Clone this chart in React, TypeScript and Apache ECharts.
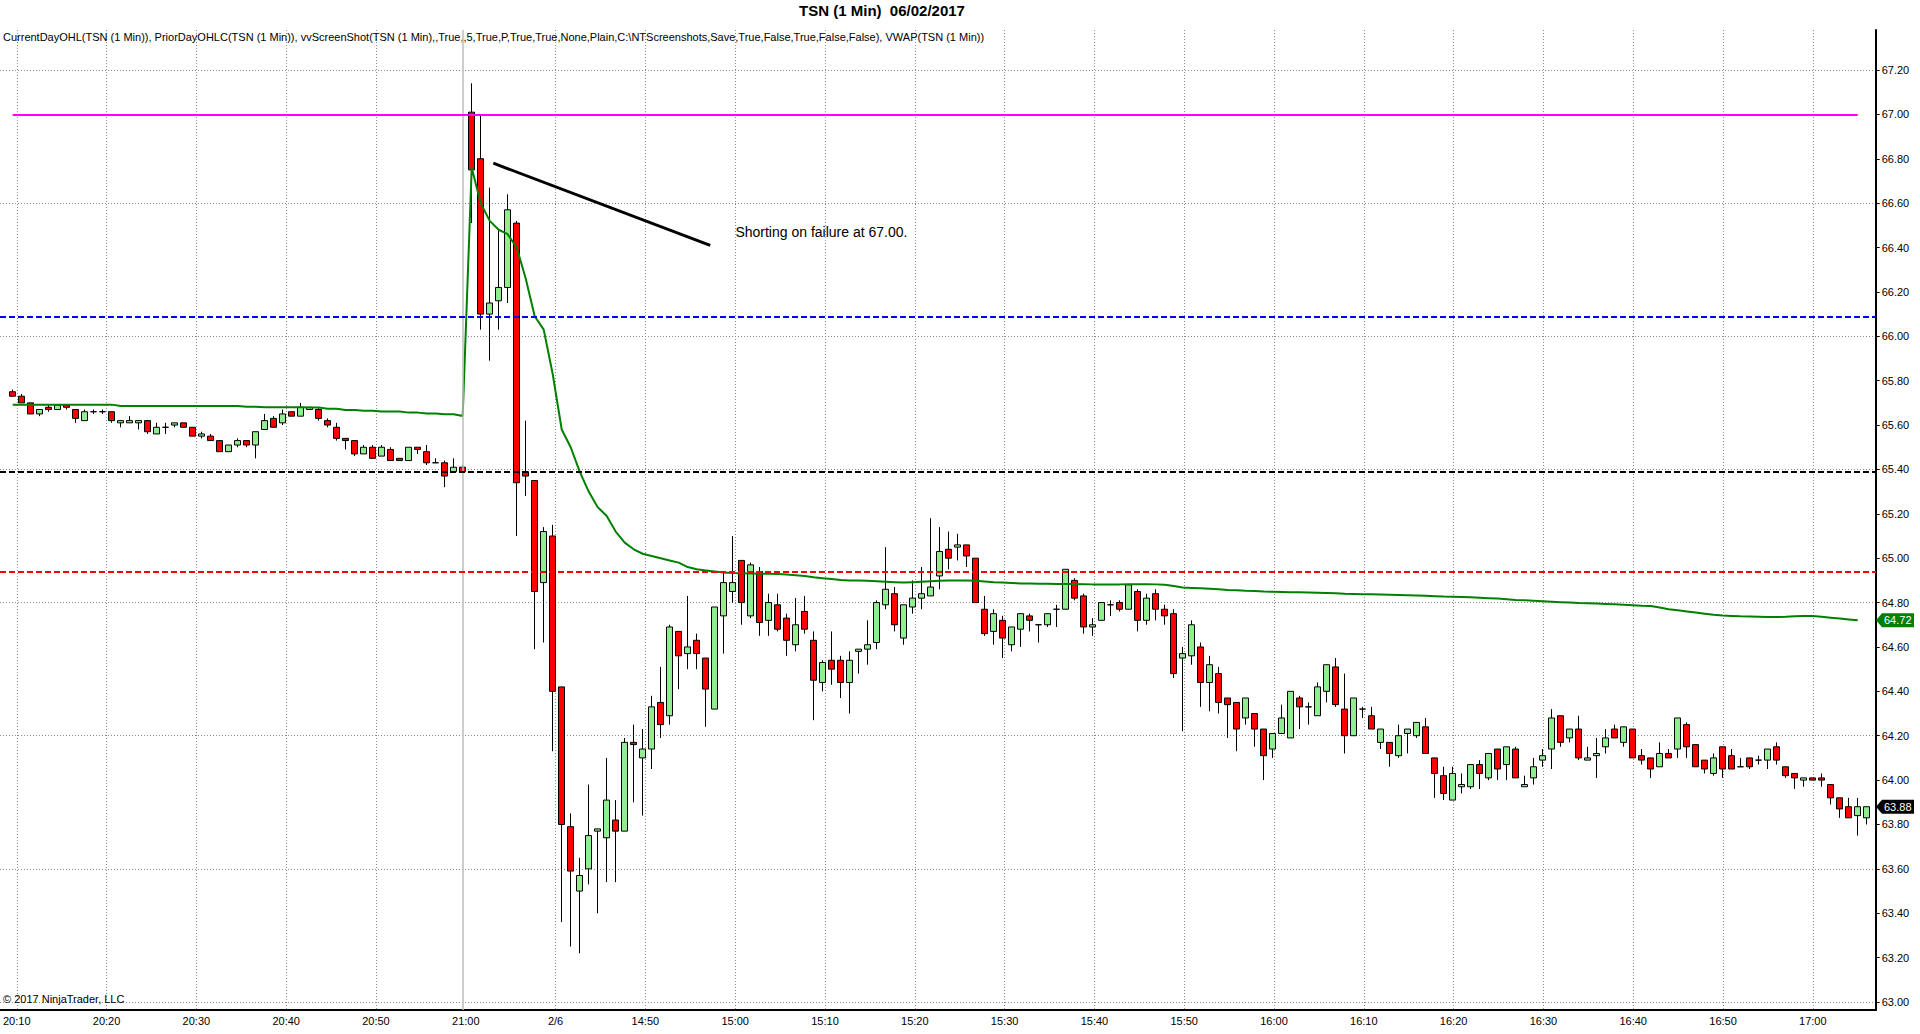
import React, { useEffect, useRef } from "react";
import * as echarts from "echarts";

// ---- DATA ----
const tickLabels = [
  "20:10", "20:20", "20:30", "20:40", "20:50", "21:00", "2/6", "14:50", "15:00", "15:10", "15:20",
  "15:30", "15:40", "15:50", "16:00", "16:10", "16:20", "16:30", "16:40", "16:50", "17:00",
];

// [open, close, low, high]
const priorDayBars = [
  [65.75, 65.73, 65.73, 65.76], [65.73, 65.70, 65.70, 65.74], [65.70, 65.65, 65.65, 65.70], [65.65, 65.67, 65.64, 65.67],
  [65.68, 65.67, 65.66, 65.69], [65.67, 65.69, 65.67, 65.69], [65.69, 65.68, 65.67, 65.69], [65.67, 65.63, 65.61, 65.67],
  [65.62, 65.66, 65.62, 65.67], [65.66, 65.66, 65.65, 65.67], [65.66, 65.66, 65.65, 65.67], [65.66, 65.62, 65.61, 65.66],
  [65.61, 65.62, 65.59, 65.62], [65.61, 65.62, 65.61, 65.64], [65.61, 65.62, 65.58, 65.62], [65.62, 65.57, 65.56, 65.62],
  [65.56, 65.59, 65.56, 65.61], [65.59, 65.59, 65.56, 65.61], [65.60, 65.61, 65.59, 65.61], [65.61, 65.59, 65.59, 65.61],
  [65.59, 65.55, 65.55, 65.59], [65.55, 65.56, 65.54, 65.57], [65.55, 65.53, 65.53, 65.56], [65.53, 65.48, 65.48, 65.53],
  [65.48, 65.51, 65.48, 65.51], [65.51, 65.53, 65.50, 65.54], [65.53, 65.51, 65.50, 65.53], [65.51, 65.57, 65.45, 65.57],
  [65.58, 65.62, 65.58, 65.65], [65.63, 65.59, 65.59, 65.64], [65.61, 65.65, 65.60, 65.67], [65.66, 65.64, 65.64, 65.66],
  [65.64, 65.68, 65.64, 65.70], [65.67, 65.68, 65.67, 65.68], [65.67, 65.63, 65.62, 65.68], [65.62, 65.60, 65.59, 65.63],
  [65.59, 65.54, 65.53, 65.61], [65.54, 65.53, 65.49, 65.54], [65.53, 65.47, 65.46, 65.53], [65.47, 65.50, 65.47, 65.51],
  [65.50, 65.45, 65.45, 65.51], [65.46, 65.50, 65.46, 65.51], [65.49, 65.44, 65.44, 65.50], [65.45, 65.44, 65.44, 65.45],
  [65.44, 65.50, 65.44, 65.50], [65.50, 65.49, 65.47, 65.50], [65.48, 65.43, 65.42, 65.51], [65.43, 65.43, 65.43, 65.45],
  [65.43, 65.37, 65.32, 65.44], [65.39, 65.41, 65.39, 65.45], [65.41, 65.39, 65.39, 65.42],
];

const currentDayBars = [
  [67.01, 66.75, 66.51, 67.14], [66.80, 66.10, 66.03, 67.00], [66.10, 66.15, 65.89, 66.67], [66.16, 66.22, 66.03, 66.48],
  [66.22, 66.57, 66.15, 66.64], [66.51, 65.34, 65.10, 66.52], [65.39, 65.37, 65.28, 65.62], [65.35, 64.85, 64.59, 65.35],
  [64.89, 65.12, 64.62, 65.14], [65.10, 64.40, 64.13, 65.15], [64.42, 63.80, 63.36, 64.42], [63.79, 63.59, 63.25, 63.85],
  [63.50, 63.57, 63.22, 63.65], [63.60, 63.75, 63.53, 63.98], [63.77, 63.78, 63.40, 63.78], [63.74, 63.91, 63.54, 64.10],
  [63.82, 63.77, 63.54, 63.91], [63.77, 64.17, 63.77, 64.19], [64.17, 64.16, 63.90, 64.25], [64.10, 64.14, 63.84, 64.23],
  [64.14, 64.33, 64.05, 64.38], [64.35, 64.25, 64.19, 64.51], [64.29, 64.69, 64.25, 64.70], [64.67, 64.56, 64.41, 64.67],
  [64.57, 64.60, 64.50, 64.83], [64.63, 64.57, 64.50, 64.66], [64.55, 64.41, 64.24, 64.55], [64.32, 64.78, 64.32, 64.78],
  [64.74, 64.89, 64.57, 64.94], [64.85, 64.89, 64.80, 65.10], [64.99, 64.80, 64.70, 64.99], [64.74, 64.97, 64.73, 64.98],
  [64.94, 64.71, 64.65, 64.96], [64.72, 64.80, 64.65, 64.84], [64.79, 64.68, 64.67, 64.84], [64.73, 64.63, 64.56, 64.75],
  [64.61, 64.70, 64.58, 64.82], [64.76, 64.68, 64.66, 64.83], [64.63, 64.45, 64.27, 64.67], [64.44, 64.53, 64.40, 64.54],
  [64.54, 64.50, 64.43, 64.67], [64.54, 64.44, 64.37, 64.56], [64.44, 64.54, 64.30, 64.58], [64.58, 64.59, 64.48, 64.59],
  [64.59, 64.61, 64.52, 64.72], [64.62, 64.80, 64.59, 64.81], [64.79, 64.86, 64.77, 65.05], [64.84, 64.70, 64.67, 64.87],
  [64.64, 64.79, 64.61, 64.79], [64.78, 64.82, 64.75, 64.90], [64.82, 64.84, 64.77, 64.96], [64.83, 64.87, 64.83, 65.18],
  [64.92, 65.03, 64.86, 65.14], [65.04, 65.00, 64.95, 65.12], [65.05, 65.06, 64.99, 65.11], [65.06, 65.01, 64.96, 65.06],
  [65.00, 64.80, 64.80, 65.00], [64.77, 64.66, 64.65, 64.83], [64.67, 64.75, 64.61, 64.77], [64.72, 64.64, 64.55, 64.74],
  [64.61, 64.69, 64.58, 64.69], [64.68, 64.75, 64.60, 64.75], [64.74, 64.72, 64.67, 64.75], [64.70, 64.70, 64.62, 64.70],
  [64.70, 64.75, 64.69, 64.75], [64.77, 64.77, 64.69, 64.79], [64.77, 64.95, 64.77, 64.95], [64.90, 64.82, 64.81, 64.91],
  [64.83, 64.69, 64.66, 64.84], [64.69, 64.70, 64.65, 64.73], [64.72, 64.80, 64.72, 64.80], [64.79, 64.79, 64.74, 64.81],
  [64.80, 64.77, 64.76, 64.81], [64.77, 64.88, 64.77, 64.88], [64.85, 64.72, 64.67, 64.86], [64.72, 64.82, 64.70, 64.84],
  [64.84, 64.77, 64.72, 64.86], [64.77, 64.74, 64.70, 64.79], [64.75, 64.48, 64.46, 64.77], [64.55, 64.57, 64.22, 64.60],
  [64.56, 64.70, 64.52, 64.72], [64.60, 64.44, 64.33, 64.62], [64.44, 64.52, 64.31, 64.56], [64.48, 64.35, 64.30, 64.51],
  [64.37, 64.34, 64.19, 64.37], [64.35, 64.23, 64.13, 64.35], [64.28, 64.37, 64.25, 64.37], [64.30, 64.23, 64.15, 64.30],
  [64.23, 64.11, 64.00, 64.23], [64.14, 64.21, 64.10, 64.21], [64.21, 64.28, 64.21, 64.34], [64.19, 64.40, 64.19, 64.40],
  [64.37, 64.33, 64.23, 64.38], [64.33, 64.33, 64.25, 64.35], [64.29, 64.42, 64.29, 64.44], [64.40, 64.52, 64.35, 64.52],
  [64.51, 64.34, 64.33, 64.55], [64.32, 64.20, 64.12, 64.48], [64.20, 64.37, 64.20, 64.37], [64.32, 64.32, 64.28, 64.33],
  [64.29, 64.23, 64.23, 64.33], [64.17, 64.23, 64.14, 64.23], [64.17, 64.12, 64.06, 64.17], [64.11, 64.20, 64.10, 64.25],
  [64.21, 64.23, 64.12, 64.23], [64.20, 64.26, 64.19, 64.26], [64.24, 64.12, 64.12, 64.28], [64.10, 64.03, 63.92, 64.10],
  [64.02, 63.94, 63.91, 64.06], [63.91, 64.03, 63.91, 64.06], [63.97, 63.98, 63.94, 64.03], [63.97, 64.07, 63.96, 64.07],
  [64.07, 64.03, 63.96, 64.09], [64.01, 64.12, 64.00, 64.12], [64.14, 64.05, 64.00, 64.14], [64.07, 64.15, 64.00, 64.15],
  [64.14, 64.01, 64.01, 64.15], [63.97, 63.98, 63.97, 64.02], [64.01, 64.06, 63.98, 64.10], [64.09, 64.11, 64.06, 64.14],
  [64.14, 64.28, 64.05, 64.32], [64.29, 64.17, 64.15, 64.29], [64.19, 64.23, 64.17, 64.23], [64.23, 64.10, 64.09, 64.29],
  [64.09, 64.10, 64.09, 64.15], [64.11, 64.12, 64.01, 64.19], [64.15, 64.19, 64.12, 64.23], [64.23, 64.19, 64.19, 64.25],
  [64.17, 64.24, 64.15, 64.24], [64.23, 64.10, 64.10, 64.23], [64.11, 64.09, 64.07, 64.14], [64.10, 64.05, 64.01, 64.10],
  [64.06, 64.12, 64.06, 64.17], [64.12, 64.10, 64.10, 64.14], [64.14, 64.28, 64.10, 64.28], [64.25, 64.15, 64.10, 64.26],
  [64.16, 64.06, 64.06, 64.16], [64.09, 64.05, 64.03, 64.09], [64.03, 64.10, 64.02, 64.12], [64.15, 64.05, 64.01, 64.15],
  [64.11, 64.05, 64.05, 64.14], [64.06, 64.06, 64.06, 64.10], [64.10, 64.06, 64.05, 64.10], [64.09, 64.09, 64.07, 64.11],
  [64.09, 64.14, 64.05, 64.14], [64.15, 64.09, 64.07, 64.17], [64.06, 64.02, 64.01, 64.06], [64.03, 64.01, 63.96, 64.03],
  [64.00, 64.01, 63.97, 64.01], [64.01, 64.00, 64.00, 64.01], [64.01, 64.00, 63.97, 64.03], [63.98, 63.92, 63.89, 63.98],
  [63.92, 63.87, 63.83, 63.92], [63.88, 63.83, 63.83, 63.92], [63.84, 63.88, 63.75, 63.92], [63.83, 63.88, 63.80, 63.88],
];

const priorDayVwap = [
  65.692, 65.692, 65.692, 65.692, 65.692, 65.692, 65.692, 65.692, 65.692, 65.692, 65.692, 65.692,
  65.686, 65.686, 65.686, 65.686, 65.686, 65.686, 65.686, 65.686, 65.686, 65.686, 65.686, 65.686, 65.686, 65.686,
  65.683, 65.683, 65.680, 65.680, 65.680, 65.680, 65.680, 65.679, 65.679, 65.673, 65.673, 65.668, 65.668,
  65.664, 65.664, 65.661, 65.661, 65.661, 65.656, 65.656, 65.652, 65.652, 65.649, 65.649, 65.641,
];

const currentDayVwap = [
  66.76, 66.60, 66.52, 66.48, 66.46, 66.40, 66.26, 66.09, 66.03, 65.83, 65.58, 65.50, 65.39, 65.30, 65.23,
  65.19, 65.12, 65.07, 65.04, 65.02, 65.01, 65.00, 64.99, 64.98, 64.96, 64.95, 64.945, 64.94, 64.935, 64.933,
  64.932, 64.931, 64.930, 64.930, 64.929, 64.926, 64.923, 64.920, 64.914, 64.910, 64.906, 64.902, 64.900, 64.900,
  64.898, 64.896, 64.894, 64.892, 64.890, 64.892, 64.894, 64.896, 64.898, 64.900, 64.900, 64.900, 64.898, 64.895,
  64.892, 64.890, 64.888, 64.886, 64.886, 64.885, 64.885, 64.884, 64.884, 64.884, 64.883, 64.882, 64.882, 64.882,
  64.882, 64.883, 64.883, 64.883, 64.882, 64.880, 64.875, 64.868, 64.866, 64.864, 64.862, 64.860, 64.857, 64.855,
  64.853, 64.852, 64.850, 64.849, 64.848, 64.847, 64.846, 64.845, 64.844, 64.843, 64.842, 64.840, 64.839, 64.838,
  64.837, 64.836, 64.835, 64.834, 64.833, 64.832, 64.831, 64.829, 64.827, 64.826, 64.825, 64.824, 64.822, 64.820,
  64.818, 64.815, 64.812, 64.810, 64.808, 64.806, 64.804, 64.802, 64.800, 64.798, 64.797, 64.796, 64.794, 64.792,
  64.790, 64.788, 64.786, 64.785, 64.778, 64.770, 64.765, 64.760, 64.755, 64.750, 64.745, 64.742, 64.740, 64.738,
  64.737, 64.736, 64.735, 64.735, 64.736, 64.738, 64.740, 64.740, 64.736, 64.732, 64.728, 64.724, 64.720,
];

const currentDayHigh = 67.0;
const priorLevels = [
  { value: 66.09, color: "#0000FF" },
  { value: 65.39, color: "#000000" },
  { value: 64.94, color: "#FF0000" },
];
const annotationStart = [53.4, 66.78];
const annotationEnd = [77.5, 66.41];
const annotationText = "Shorting on failure at 67.00.";
const annotationAnchor = [80.3, 66.47];
const sessionBreakIndex = 50;

const titleText = "TSN (1 Min)  06/02/2017";
const indicatorText =
  "CurrentDayOHL(TSN (1 Min)), PriorDayOHLC(TSN (1 Min)), vvScreenShot(TSN (1 Min),,True,,5,True,P,True,True,None,Plain,C:\\NTScreenshots,Save,True,False,True,False,False), VWAP(TSN (1 Min))";
const copyrightText = "\u00A9 2017 NinjaTrader, LLC";

const FONT = '"Liberation Sans", Arial, Helvetica, sans-serif';

export default function App() {
  const ref = useRef<HTMLDivElement>(null);

  useEffect(() => {
    if (!ref.current) return;
    const chart = echarts.init(ref.current, null, { renderer: "svg" });

    const bars = [...priorDayBars, ...currentDayBars];
    const barCount = bars.length;
    const categories = Array.from({ length: barCount + 1 }, (_, i) =>
      i % 10 === 0 && i / 10 < tickLabels.length ? tickLabels[i / 10] : ""
    );
    const vwap: (number | null)[] = [...priorDayVwap, ...currentDayVwap];
    while (vwap.length < barCount + 1) vwap.push(null);

    // layout
    const plotLeft = 12.7;
    const plotRight = 1876;
    const innerWidth = plotRight - 0.3 - plotLeft;
    const step = innerWidth / barCount;
    const xMin = -plotLeft / step;
    const xMax = (plotRight - plotLeft) / step;

    const dotted = { type: [1, 2] as any, color: "#8a8a8a", width: 1 };
    const dash = [6, 3];

    const option: any = {
      animation: false,
      backgroundColor: "#ffffff",
      textStyle: { fontFamily: FONT },
      grid: [
        { left: plotLeft, top: 70, width: innerWidth, height: 932 },
        { left: plotLeft, top: 30, width: innerWidth, height: 980 },
        { left: 0, top: 30, width: plotRight, height: 980 },
        { left: 0, top: 70, width: plotRight, height: 932 },
      ],
      xAxis: [
        { gridIndex: 0, type: "category", data: categories, boundaryGap: false, show: false },
        {
          gridIndex: 1,
          type: "category",
          data: categories,
          boundaryGap: false,
          axisLine: { show: false },
          axisTick: { show: false },
          axisLabel: { interval: 0, fontSize: 11, color: "#000", margin: 5, fontFamily: FONT },
          splitLine: {
            show: true,
            interval: (i: number) => i % 10 === 0 && i !== sessionBreakIndex && i / 10 < tickLabels.length,
            lineStyle: dotted,
          },
        },
        {
          gridIndex: 2,
          type: "value",
          min: xMin,
          max: xMax,
          axisLine: { show: true, onZero: false, lineStyle: { color: "#000", width: 2 } },
          axisTick: { show: false },
          axisLabel: { show: false },
          splitLine: { show: false },
        },
        { gridIndex: 3, type: "value", min: xMin, max: xMax, show: false },
      ],
      yAxis: [
        {
          gridIndex: 0,
          type: "value",
          min: 63,
          max: 67.2,
          interval: 0.2,
          position: "right",
          axisLine: { show: false },
          axisTick: { show: true, length: 4, lineStyle: { color: "#000", width: 1 } },
          axisLabel: {
            fontSize: 11,
            color: "#000",
            margin: 6,
            fontFamily: FONT,
            formatter: (v: number) => v.toFixed(2),
          },
          splitLine: { show: false },
        },
        { gridIndex: 1, type: "value", min: 0, max: 1, show: false },
        {
          gridIndex: 2,
          type: "value",
          min: 0,
          max: 1,
          position: "right",
          axisLine: { show: true, onZero: false, lineStyle: { color: "#000", width: 2 } },
          axisTick: { show: false },
          axisLabel: { show: false },
          splitLine: { show: false },
        },
        {
          gridIndex: 3,
          type: "value",
          min: 63,
          max: 67.2,
          interval: 0.6,
          axisLine: { show: false },
          axisTick: { show: false },
          axisLabel: { show: false },
          splitLine: { show: true, lineStyle: dotted },
        },
      ],
      series: [
        {
          type: "line",
          xAxisIndex: 2,
          yAxisIndex: 2,
          data: [[xMin, 0.5]],
          symbol: "none",
          silent: true,
          z: 1,
          lineStyle: { opacity: 0 },
          markLine: {
            silent: true,
            symbol: ["none", "none"],
            label: { show: false },
            lineStyle: { color: "#bdbdbd", width: 1.5, type: "solid" },
            data: [{ xAxis: sessionBreakIndex }],
          },
        },
        {
          type: "candlestick",
          xAxisIndex: 0,
          yAxisIndex: 0,
          data: bars.map((b) => [b[0], b[1], b[2], b[3]]),
          barWidth: 7,
          clip: false,
          z: 2,
          itemStyle: {
            color: "#90EE90",
            color0: "#FF0000",
            borderColor: "#000000",
            borderColor0: "#000000",
            borderColorDoji: "#000000",
            borderWidth: 1,
          },
        },
        {
          type: "line",
          xAxisIndex: 3,
          yAxisIndex: 3,
          data: [[xMin, 65]],
          symbol: "none",
          silent: true,
          z: 3,
          lineStyle: { opacity: 0 },
          markLine: {
            silent: true,
            symbol: ["none", "none"],
            label: { show: false },
            data: [
              [
                { coord: [0, currentDayHigh], lineStyle: { color: "#FF00FF", width: 2, type: "solid" } },
                { coord: [barCount - 2, currentDayHigh] },
              ],
              ...priorLevels.map((l) => ({
                yAxis: l.value,
                lineStyle: { color: l.color, width: 2, type: dash },
              })),
              [
                { coord: annotationStart, lineStyle: { color: "#000000", width: 3, type: "solid" } },
                { coord: annotationEnd },
              ],
            ],
          },
        },
        {
          type: "line",
          xAxisIndex: 0,
          yAxisIndex: 0,
          data: vwap,
          symbol: "none",
          silent: true,
          z: 4,
          connectNulls: false,
          lineStyle: { color: "#008000", width: 2 },
        },
      ],
    };

    chart.setOption(option);

    const lastVwap = currentDayVwap[currentDayVwap.length - 1];
    const lastClose = currentDayBars[currentDayBars.length - 1][1];
    const tag = (value: number, fill: string) => {
      const y = chart.convertToPixel({ yAxisIndex: 0 }, value) as number;
      const x = plotRight;
      return [
        {
          type: "polygon",
          z: 50,
          shape: {
            points: [
              [x, y],
              [x + 6, y - 7],
              [x + 38, y - 7],
              [x + 38, y + 7],
              [x + 6, y + 7],
            ],
          },
          style: { fill },
        },
        {
          type: "text",
          z: 51,
          x: x + 8,
          y,
          style: {
            text: value.toFixed(2),
            fill: "#ffffff",
            fontSize: 11,
            fontFamily: FONT,
            verticalAlign: "middle",
            align: "left",
          },
        },
      ];
    };

    const annPx = chart.convertToPixel({ xAxisIndex: 3, yAxisIndex: 3 }, annotationAnchor) as number[];

    chart.setOption({
      graphic: [
        {
          type: "text",
          x: 882,
          y: 10,
          style: {
            text: titleText,
            fontSize: 15,
            fontWeight: "bold",
            fontFamily: FONT,
            fill: "#000",
            align: "center",
            verticalAlign: "middle",
          },
        },
        {
          type: "text",
          x: 3,
          y: 37,
          style: {
            text: indicatorText,
            fontSize: 11,
            fontFamily: FONT,
            fill: "#000",
            align: "left",
            verticalAlign: "middle",
          },
        },
        {
          type: "text",
          x: 3,
          y: 999,
          style: {
            text: copyrightText,
            fontSize: 11,
            fontFamily: FONT,
            fill: "#000",
            align: "left",
            verticalAlign: "middle",
          },
        },
        {
          type: "text",
          x: annPx[0],
          y: annPx[1],
          style: {
            text: annotationText,
            fontSize: 14,
            fontFamily: FONT,
            fill: "#000",
            align: "left",
            verticalAlign: "middle",
          },
        },
        ...tag(lastVwap, "#008000"),
        ...tag(lastClose, "#000000"),
      ],
    });

    return () => chart.dispose();
  }, []);

  return (
    <div
      ref={ref}
      style={{ position: "fixed", left: 0, top: 0, width: 1920, height: 1034, background: "#fff" }}
    />
  );
}
